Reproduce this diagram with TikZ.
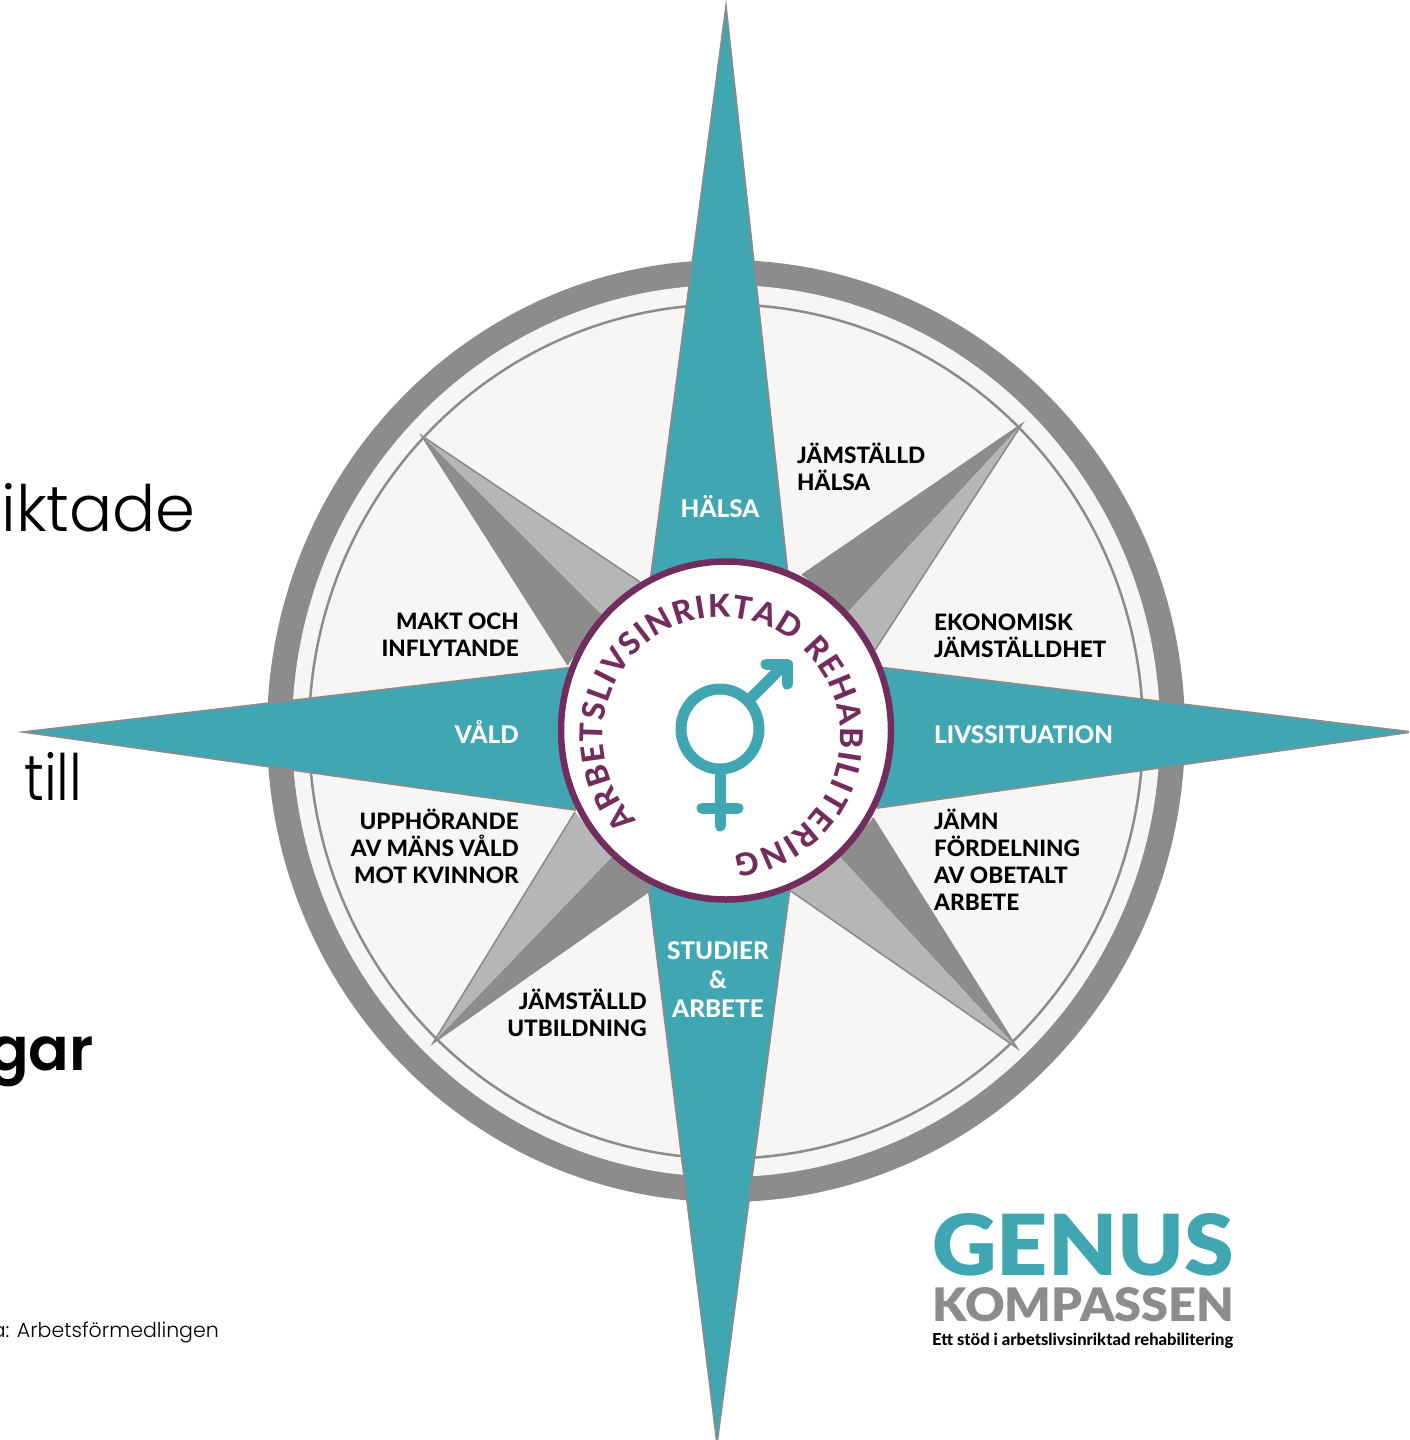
\documentclass[tikz,border=0pt]{standalone}
\usepackage{fontspec}
\usepackage{graphicx}
\usetikzlibrary{decorations.text}
\setmainfont{Lato}
\newfontfamily\lightfont{Poppins}[UprightFont=* Light,BoldFont=* SemiBold]
\newfontfamily\blackfont{Lato}[UprightFont=* Black]
\newfontfamily\heavyfont{Lato}[UprightFont=* Heavy]
\definecolor{teal}{HTML}{3FA6B2}
\definecolor{ringgray}{HTML}{8C8C8C}
\definecolor{lightgray}{HTML}{B6B6B6}
\definecolor{purp}{HTML}{722C5E}
\definecolor{paper}{HTML}{F7F6F4}
\newcommand{\fl}{\rule{0pt}{20pt}}
\tikzset{
  lab/.style={font=\fontsize{22.6}{27}\selectfont\heavyfont, inner sep=0pt, text=black},
  labl/.style={lab, align=left, anchor=north west},
  labr/.style={lab, align=right, anchor=north east},
  whitelab/.style={lab, font=\fontsize{24.3}{27}\selectfont\heavyfont, text=white},
  arm/.style={fill=teal, draw=ringgray, line width=1.6pt, line join=miter},
  dark/.style={fill=ringgray, draw=none},
  light/.style={fill=lightgray, draw=none},
  edge/.style={draw=ringgray, line width=1.6pt},
  sym/.style={draw=teal, line width=11pt, line cap=round},
  side/.style={inner sep=0pt, text=black}
}
\begin{document}
\begin{tikzpicture}[x=1pt,y=-1pt]
\useasboundingbox (0,0) rectangle (1409,1440);
\clip (0,0) rectangle (1409,1440);
% text on the left, cut by the page edge
\node[side, anchor=base east, font=\fontsize{64}{64}\selectfont\lightfont] (t1) at (196,531) {riktade};
\node[side, anchor=base west, font=\fontsize{64}{64}\selectfont\lightfont] (t2) at (24,800) {\scalebox{0.87}[1]{till}};
\node[side, anchor=base east, font=\fontsize{60}{60}\selectfont\lightfont\bfseries] (t3) at (94,1070) {gar};
\node[side, anchor=base east, font=\fontsize{20.5}{20.5}\selectfont\lightfont] (t4) at (219,1337) {a: Arbetsförmedlingen};
% rings
\fill[ringgray] (726,731) ellipse [x radius=459, y radius=471];
\fill[paper] (726,731) ellipse [x radius=434, y radius=446];
\draw[ringgray, line width=2.5pt] (726,731.5) ellipse [x radius=417, y radius=427];
% diagonal arms
\fill[dark] (1022,424) -- (802,575) -- (848,612) -- cycle;
\fill[light] (1022,424) -- (848,612) -- (875,650) -- cycle;
\draw[edge] (802,575) -- (1022,424) -- (875,650);
\fill[dark] (1017,1048) -- (873,818) -- (840,857) -- cycle;
\fill[light] (1017,1048) -- (840,857) -- (785,887) -- cycle;
\draw[edge] (873,818) -- (1017,1048) -- (785,887);
\fill[light] (433,1043) -- (575,812) -- (612,857) -- cycle;
\fill[dark] (433,1043) -- (612,857) -- (665,880) -- cycle;
\draw[edge] (575,812) -- (433,1043) -- (665,880);
\fill[light] (422,436) -- (640,582) -- (602,615) -- cycle;
\fill[dark] (422,436) -- (602,615) -- (568,665) -- cycle;
\draw[edge] (640,582) -- (422,436) -- (568,665);
% main arms
\path[arm] (726,6) -- (788,575) -- (650,582) -- cycle;
\path[arm] (717,1444) -- (648,885) -- (790,888) -- cycle;
\path[arm] (23,732) -- (575,667) -- (575,810) -- cycle;
\path[arm] (1412,732) -- (878,667) -- (878,808) -- cycle;
% medallion
\draw[purp, fill=white, line width=6.5pt] (726,730.5) ellipse [x radius=165, y radius=169];
\path[decorate, decoration={text along path, text align={fit to path},
  text={|\fontsize{31.5}{32}\selectfont\heavyfont\color{purp}|ARBETSLIVSINRIKTAD REHABILITERING}}]
  (637.1,820) arc [start angle=135.3, end angle=444, radius=119];
% gender symbol
\draw[teal, line width=11pt] (720,729) ellipse [x radius=39, y radius=40];
\draw[sym] (720,772) -- (720,826);
\draw[sym] (702,808) -- (738,808);
\draw[sym, line cap=butt] (748,701) -- (784,665);
\draw[sym, line join=round] (766,664) -- (787,664) -- (787,684);
% labels
\node[labl] (n1) at (797,443) {\fl JÄMSTÄLLD\\HÄLSA};
\node[labl] (n2) at (934,610) {\fl EKONOMISK\\JÄMSTÄLLDHET};
\node[labl] (n3) at (934,809) {\fl JÄMN\\FÖRDELNING\\AV OBETALT\\ARBETE};
\node[labr] (n4) at (519,609) {\fl MAKT OCH\\INFLYTANDE};
\node[labr] (n5) at (519,809) {\fl UPPHÖRANDE\\AV MÄNS VÅLD\\MOT KVINNOR};
\node[labr] (n6) at (647,989) {\fl JÄMSTÄLLD\\UTBILDNING};
\node[whitelab, anchor=base] (w1) at (720,517) {HÄLSA};
\node[whitelab, anchor=base east] (w2) at (519,743) {VÅLD};
\node[whitelab, anchor=base west] (w3) at (934,743) {LIVSSITUATION};
\node[whitelab, anchor=base] (w4) at (718,959) {STUDIER};
\node[whitelab, anchor=base] (w5) at (718,988) {\&};
\node[whitelab, anchor=base] (w6) at (718,1017) {ARBETE};
% logo
\node[inner sep=0pt, anchor=south west, text=teal] (g1) at (932,1276) {\resizebox{302pt}{62pt}{\blackfont GENUS}};
\node[inner sep=0pt, anchor=south west, text=ringgray] (g2) at (932,1322) {\resizebox{302pt}{34pt}{\blackfont KOMPASSEN}};
\node[inner sep=0pt, anchor=base west, text=black] (g3) at (932,1345) {\resizebox{301pt}{!}{\fontsize{15}{15}\selectfont\heavyfont Ett stöd i arbetslivsinriktad rehabilitering}};
\end{tikzpicture}
\end{document}
